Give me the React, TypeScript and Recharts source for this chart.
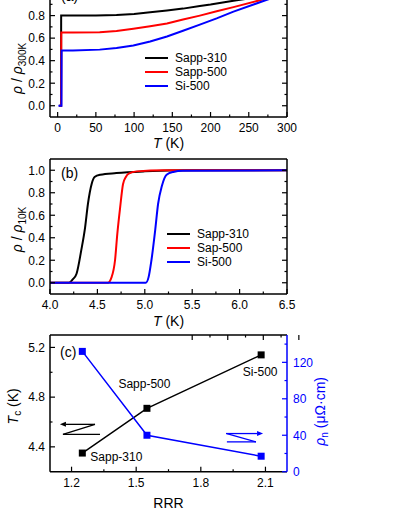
import React from 'react';
import { LineChart, Line, XAxis, YAxis, Legend, Label, LabelList, ReferenceLine } from 'recharts';

const FONT = '"Liberation Sans", Arial, sans-serif';
const BLACK = '#000000';
const RED = '#ff0000';
const BLUE = '#0000ff';

// (a) rho / rho(300 K) vs T
const tempA310 = [2, 4.4, 4.6, 20, 50, 77, 100, 121, 143, 164, 186, 200, 230, 260, 300];
const rhoA310 = [0, 0, 0.8, 0.8, 0.801, 0.806, 0.815, 0.829, 0.845, 0.862, 0.885, 0.898, 0.932, 0.962, 1.0];
const tempA500 = [2, 4.6, 4.8, 20, 55, 77, 99, 121, 143, 164, 186, 208, 230, 262, 300];
const rhoA500 = [0, 0, 0.65, 0.65, 0.653, 0.664, 0.683, 0.705, 0.73, 0.765, 0.8, 0.838, 0.875, 0.932, 1.0];
const tempASi = [1, 5.0, 5.2, 20, 55, 77, 99, 121, 143, 164, 186, 208, 230, 270, 300];
const rhoASi = [0, 0, 0.49, 0.49, 0.498, 0.512, 0.535, 0.57, 0.615, 0.665, 0.72, 0.775, 0.835, 0.932, 1.0];

// (b) rho / rho(10 K) vs T near the transition
const tempB310 = [4.0, 4.2, 4.24, 4.28, 4.33, 4.37, 4.4, 4.44, 4.47, 4.53, 4.7, 5.0, 5.5, 6.5];
const rhoB310 = [0, 0, 0.03, 0.08, 0.29, 0.49, 0.7, 0.88, 0.94, 0.96, 0.975, 0.99, 1.0, 1.0];
const tempB500 = [4.0, 4.61, 4.65, 4.686, 4.71, 4.74, 4.77, 4.8, 4.83, 4.915, 5.2, 6.5];
const rhoB500 = [0, 0, 0.05, 0.2, 0.435, 0.67, 0.876, 0.94, 0.97, 0.99, 1.0, 1.0];
const tempBSi = [4.0, 5.01, 5.04, 5.07, 5.11, 5.14, 5.18, 5.23, 5.3, 5.4, 6.5];
const rhoBSi = [0, 0, 0.05, 0.2, 0.47, 0.7, 0.86, 0.96, 0.985, 0.995, 1.0];

// (c) Tc and rho_n vs RRR
const rrr = [1.25, 1.55, 2.08];
const tc = [4.35, 4.71, 5.14];
const rhoN = [132, 40, 17];
const samples = ['Sapp-310', 'Sapp-500', 'Si-500'];

const namesA = ['Sapp-310', 'Sapp-500', 'Si-500'];
const namesB = ['Sapp-310', 'Sap-500', 'Si-500'];

// ticks (majors get labels)
const tTicksA = [0, 25, 50, 75, 100, 125, 150, 175, 200, 225, 250, 275, 300];
const tMajorA = [0, 50, 100, 150, 200, 250, 300];
const yTicksAB = [0, 0.1, 0.2, 0.3, 0.4, 0.5, 0.6, 0.7, 0.8, 0.9, 1.0];
const yMajorAB = [0, 0.2, 0.4, 0.6, 0.8, 1.0];
const tTicksB = [4.0, 4.25, 4.5, 4.75, 5.0, 5.25, 5.5, 5.75, 6.0, 6.25, 6.5];
const tMajorB = [4.0, 4.5, 5.0, 5.5, 6.0, 6.5];
const rrrTicks = [1.2, 1.35, 1.5, 1.65, 1.8, 1.95, 2.1];
const rrrMajor = [1.2, 1.5, 1.8, 2.1];
const tcTicks = [4.4, 4.6, 4.8, 5.0, 5.2];
const tcMajor = [4.4, 4.8, 5.2];
const rhoTicks = [0, 20, 40, 60, 80, 100, 120, 140];
const rhoMajor = [0, 40, 80, 120];

const pts = (xs: number[], ys: number[]) => xs.map((x, i) => ({ x, y: ys[i] }));
const tableC = rrr.map((r, i) => ({ rrr: r, tc: tc[i], rho: rhoN[i], name: samples[i] }));

type Side = 'left' | 'right' | 'top' | 'bottom';

const axisTick = (side: Side, majors: number[], digits: number, color = BLACK, labels = true) => (props: any) => {
  const { x, y, payload } = props;
  const v = Number(payload.value);
  const major = majors.some((m) => Math.abs(m - v) < 1e-6);
  const len = major ? 5 : 2.5;
  const txt = labels && major ? v.toFixed(digits) : null;
  const st = { stroke: color, strokeWidth: 1.2 };
  const tp = { fill: color, fontSize: 12, fontFamily: FONT };
  if (side === 'left') {
    return (
      <g>
        <line x1={x} y1={y} x2={x + len} y2={y} {...st} />
        {txt && <text x={x - 5} y={y} dy="0.36em" textAnchor="end" {...tp}>{txt}</text>}
      </g>
    );
  }
  if (side === 'right') {
    return (
      <g>
        <line x1={x} y1={y} x2={x - len} y2={y} {...st} />
        {txt && <text x={x + 6} y={y} dy="0.36em" textAnchor="start" {...tp}>{txt}</text>}
      </g>
    );
  }
  if (side === 'top') {
    return <line x1={x} y1={y} x2={x} y2={y + len} {...st} />;
  }
  return (
    <g>
      <line x1={x} y1={y} x2={x} y2={y - len} {...st} />
      {txt && <text x={x} y={y + 11} dy="0.36em" textAnchor="middle" {...tp}>{txt}</text>}
    </g>
  );
};

const frame = { stroke: BLACK, strokeWidth: 1.5 };

const legendContent = (order: string[]) => (props: any) => {
  const items = [...(props.payload || [])].sort((a: any, b: any) => order.indexOf(a.value) - order.indexOf(b.value));
  return (
    <div style={{ fontFamily: FONT, fontSize: 12, color: BLACK }}>
      {items.map((it: any) => (
        <div key={it.value} style={{ display: 'flex', alignItems: 'center', height: 14, whiteSpace: 'nowrap' }}>
          <span style={{ display: 'inline-block', width: 23, height: 2, background: it.color }} />
          <span style={{ marginLeft: 7 }}>{it.value}</span>
        </div>
      ))}
    </div>
  );
};

const xTitle = (dy: number, node: React.ReactNode) => (props: any) => {
  const vb = props.viewBox;
  return (
    <text x={vb.x + vb.width / 2} y={vb.y + dy} dy="0.36em" textAnchor="middle" fontSize={14} fontFamily={FONT} fill={BLACK}>
      {node}
    </text>
  );
};

const yTitle = (cx: number, dy: number, color: string, node: React.ReactNode) => (props: any) => {
  const vb = props.viewBox;
  const cy = vb.y + vb.height / 2 + dy;
  return (
    <text x={cx} y={cy} dy="0.36em" textAnchor="middle" fontSize={14} fontFamily={FONT} fill={color} transform={`rotate(-90 ${cx} ${cy})`}>
      {node}
    </text>
  );
};

const tLabel = (
  <>
    <tspan fontStyle="italic">T</tspan> (K)
  </>
);

const rhoLabel = (sub: string) => (
  <>
    <tspan fontStyle="italic">ρ</tspan> / <tspan fontStyle="italic">ρ</tspan>
    <tspan fontSize={10} dy={4}>{sub}</tspan>
  </>
);

const squareDot = (color: string) => (p: any) => (
  <rect key={`d-${p.index}`} x={p.cx - 3.5} y={p.cy - 3.5} width={7} height={7} fill={color} />
);

const nameOffsets = [
  { dx: 8, dy: 4, anchor: 'start' },
  { dx: -2.5, dy: -25, anchor: 'middle' },
  { dx: -1, dy: 17, anchor: 'middle' },
];

const sampleLabel = (props: any) => {
  const { x, y, value, index } = props;
  const o = nameOffsets[index];
  return (
    <text x={x + o.dx} y={y + o.dy} dy="0.36em" textAnchor={o.anchor} fontSize={12} fontFamily={FONT} fill={BLACK}>
      {value}
    </text>
  );
};

const arrowShape = (color: string, head: boolean) => (p: any) => {
  const { x1, y1, x2, y2 } = p;
  const ang = Math.atan2(y2 - y1, x2 - x1);
  const L = 6;
  const W = 2.5;
  const bx = x2 - L * Math.cos(ang);
  const by = y2 - L * Math.sin(ang);
  const nx = -Math.sin(ang) * W;
  const ny = Math.cos(ang) * W;
  return (
    <g>
      <line x1={x1} y1={y1} x2={head ? bx : x2} y2={head ? by : y2} stroke={color} strokeWidth={1.3} />
      {head && <polygon points={`${x2},${y2} ${bx + nx},${by + ny} ${bx - nx},${by - ny}`} fill={color} />}
    </g>
  );
};

const ChartA = () => (
  <LineChart width={409} height={182} margin={{ top: 5.8, right: 121, bottom: 0, left: 10 }}>
    <XAxis type="number" dataKey="x" domain={[-10, 300]} allowDataOverflow ticks={tTicksA} interval={0}
      tickSize={0} tickMargin={0} tickLine={false} axisLine={frame} height={40} tick={axisTick('bottom', tMajorA, 0)}>
      <Label content={xTitle(26, tLabel)} />
    </XAxis>
    <XAxis xAxisId="top" orientation="top" type="number" domain={[-10, 300]} allowDataOverflow ticks={tTicksA} interval={0}
      tickSize={0} tickMargin={0} tickLine={false} axisLine={frame} height={1} tick={axisTick('top', tMajorA, 0)} />
    <YAxis type="number" domain={[-0.1, 1.1]} allowDataOverflow ticks={yTicksAB} interval={0}
      tickSize={0} tickMargin={0} tickLine={false} axisLine={frame} width={40} tick={axisTick('left', yMajorAB, 1)}>
      <Label content={yTitle(17, 19, BLACK, rhoLabel('300K'))} />
    </YAxis>
    <YAxis yAxisId="right" orientation="right" type="number" domain={[-0.1, 1.1]} allowDataOverflow ticks={yTicksAB} interval={0}
      tickSize={0} tickMargin={0} tickLine={false} axisLine={frame} width={1} tick={axisTick('right', yMajorAB, 1, BLACK, false)} />
    <Line data={pts(tempA310, rhoA310)} dataKey="y" name={namesA[0]} stroke={BLACK} strokeWidth={2} dot={false} type="linear" isAnimationActive={false} />
    <Line data={pts(tempA500, rhoA500)} dataKey="y" name={namesA[1]} stroke={RED} strokeWidth={2} dot={false} type="linear" isAnimationActive={false} />
    <Line data={pts(tempASi, rhoASi)} dataKey="y" name={namesA[2]} stroke={BLUE} strokeWidth={2} dot={false} type="linear" isAnimationActive={false} />
    <text x={61} y={20.8} dy="0.36em" fontSize={14} fontFamily={FONT} fill={BLACK}>(a)</text>
    <Legend layout="vertical" align="center" verticalAlign="middle" content={legendContent(namesA)}
      wrapperStyle={{ left: 145, top: 76, width: 'auto', height: 'auto' }} />
  </LineChart>
);

const ChartB = () => (
  <LineChart width={409} height={194} margin={{ top: 18, right: 121, bottom: 0, left: 10 }}>
    <XAxis type="number" dataKey="x" domain={[4, 6.5]} allowDataOverflow ticks={tTicksB} interval={0}
      tickSize={0} tickMargin={0} tickLine={false} axisLine={frame} height={40} tick={axisTick('bottom', tMajorB, 1)}>
      <Label content={xTitle(27, tLabel)} />
    </XAxis>
    <XAxis xAxisId="top" orientation="top" type="number" domain={[4, 6.5]} allowDataOverflow ticks={tTicksB} interval={0}
      tickSize={0} tickMargin={0} tickLine={false} axisLine={frame} height={1} tick={axisTick('top', tMajorB, 1)} />
    <YAxis type="number" domain={[-0.1, 1.1]} allowDataOverflow ticks={yTicksAB} interval={0}
      tickSize={0} tickMargin={0} tickLine={false} axisLine={frame} width={40} tick={axisTick('left', yMajorAB, 1)}>
      <Label content={yTitle(17, 3, BLACK, rhoLabel('10K'))} />
    </YAxis>
    <YAxis yAxisId="right" orientation="right" type="number" domain={[-0.1, 1.1]} allowDataOverflow ticks={yTicksAB} interval={0}
      tickSize={0} tickMargin={0} tickLine={false} axisLine={frame} width={1} tick={axisTick('right', yMajorAB, 1, BLACK, false)} />
    <Line data={pts(tempB310, rhoB310)} dataKey="y" name={namesB[0]} stroke={BLACK} strokeWidth={2} dot={false} type="monotone" isAnimationActive={false} />
    <Line data={pts(tempB500, rhoB500)} dataKey="y" name={namesB[1]} stroke={RED} strokeWidth={2} dot={false} type="monotone" isAnimationActive={false} />
    <Line data={pts(tempBSi, rhoBSi)} dataKey="y" name={namesB[2]} stroke={BLUE} strokeWidth={2} dot={false} type="monotone" isAnimationActive={false} />
    <text x={61} y={33} dy="0.36em" fontSize={14} fontFamily={FONT} fill={BLACK}>(b)</text>
    <Legend layout="vertical" align="center" verticalAlign="middle" content={legendContent(namesB)}
      wrapperStyle={{ left: 167, top: 87.3, width: 'auto', height: 'auto' }} />
  </LineChart>
);

const ChartC = () => (
  <LineChart width={409} height={209} data={tableC} margin={{ top: 14, right: 72, bottom: 0, left: 10 }}>
    <XAxis type="number" dataKey="rrr" domain={[1.1, 2.2]} allowDataOverflow ticks={rrrTicks} interval={0}
      tickSize={0} tickMargin={0} tickLine={false} axisLine={frame} height={57.3} tick={axisTick('bottom', rrrMajor, 1)}>
      <Label content={xTitle(31, 'RRR')} />
    </XAxis>
    <XAxis xAxisId="top" orientation="top" type="number" domain={[1.1, 2.2]} allowDataOverflow ticks={rrrTicks} interval={0}
      tickSize={0} tickMargin={0} tickLine={false} axisLine={frame} height={1} tick={axisTick('top', rrrMajor, 1)} />
    <YAxis yAxisId="tc" type="number" domain={[4.2, 5.3]} allowDataOverflow ticks={tcTicks} interval={0}
      tickSize={0} tickMargin={0} tickLine={false} axisLine={frame} width={40} tick={axisTick('left', tcMajor, 1)}>
      <Label content={yTitle(13, 3, BLACK, <><tspan fontStyle="italic">T</tspan><tspan fontSize={10} dy={3}>c</tspan><tspan dy={-3}> (K)</tspan></>)} />
    </YAxis>
    <YAxis yAxisId="rho" orientation="right" type="number" domain={[0, 150]} allowDataOverflow ticks={rhoTicks} interval={0}
      tickSize={0} tickMargin={0} tickLine={false} axisLine={{ stroke: BLUE, strokeWidth: 1.5 }} width={50}
      tick={axisTick('right', rhoMajor, 0, BLUE)}>
      <Label content={yTitle(320, 8, BLUE, <><tspan fontStyle="italic">ρ</tspan><tspan fontSize={10} dy={3}>n</tspan><tspan dy={-3}> (μΩ·cm)</tspan></>)} />
    </YAxis>
    <Line yAxisId="tc" dataKey="tc" stroke={BLACK} strokeWidth={1.5} dot={squareDot(BLACK)} type="linear" isAnimationActive={false}>
      <LabelList dataKey="name" content={sampleLabel} />
    </Line>
    <Line yAxisId="rho" dataKey="rho" stroke={BLUE} strokeWidth={1.5} dot={squareDot(BLUE)} type="linear" isAnimationActive={false} />
    <ReferenceLine yAxisId="tc" segment={[{ x: 1.309, y: 4.581 }, { x: 1.146, y: 4.581 }]} shape={arrowShape(BLACK, true)} />
    <ReferenceLine yAxisId="tc" segment={[{ x: 1.309, y: 4.581 }, { x: 1.16, y: 4.501 }]} shape={arrowShape(BLACK, false)} />
    <ReferenceLine yAxisId="tc" segment={[{ x: 1.16, y: 4.501 }, { x: 1.332, y: 4.501 }]} shape={arrowShape(BLACK, false)} />
    <ReferenceLine yAxisId="tc" segment={[{ x: 1.917, y: 4.507 }, { x: 2.089, y: 4.507 }]} shape={arrowShape(BLUE, true)} />
    <ReferenceLine yAxisId="tc" segment={[{ x: 1.921, y: 4.507 }, { x: 2.056, y: 4.44 }]} shape={arrowShape(BLUE, false)} />
    <ReferenceLine yAxisId="tc" segment={[{ x: 1.921, y: 4.44 }, { x: 2.056, y: 4.44 }]} shape={arrowShape(BLUE, false)} />
    <text x={60} y={31.7} dy="0.36em" fontSize={14} fontFamily={FONT} fill={BLACK}>(c)</text>
  </LineChart>
);

export default function App() {
  return (
    <div style={{ position: 'absolute', left: 0, top: 0, width: 409, height: 529, overflow: 'hidden', background: '#fff', fontFamily: FONT }}>
      <div style={{ position: 'absolute', left: 0, top: -25 }}>
        <ChartA />
      </div>
      <div style={{ position: 'absolute', left: 0, top: 140 }}>
        <ChartB />
      </div>
      <div style={{ position: 'absolute', left: 0, top: 320 }}>
        <ChartC />
      </div>
    </div>
  );
}
